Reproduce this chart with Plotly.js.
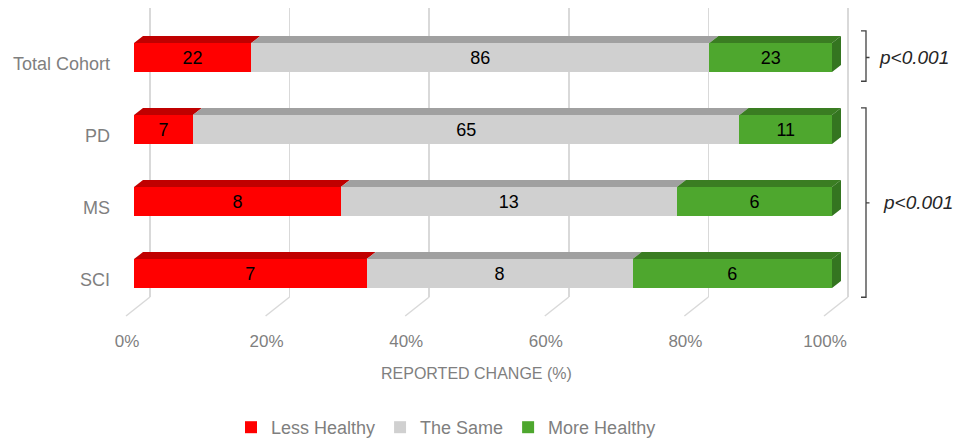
<!DOCTYPE html>
<html>
<head>
<meta charset="utf-8">
<script src="https://cdn.plot.ly/plotly-3.0.1.min.js"></script>
<style>html,body{margin:0;padding:0;background:#fff;}#chart{width:960px;height:446px;}</style>
</head>
<body>
<div id="chart"></div>
<script>
// ---- data ----
const categories = ['Total Cohort', 'PD', 'MS', 'SCI'];
const seriesNames = ['Less Healthy', 'The Same', 'More Healthy'];
const lessHealthy = [22, 7, 8, 7];
const theSame = [86, 65, 13, 8];
const moreHealthy = [23, 11, 6, 6];
const xTickVals = [0, 20, 40, 60, 80, 100];
const xTickText = ['0%', '20%', '40%', '60%', '80%', '100%'];
const pLabels = ['p<0.001', 'p<0.001'];

// ---- styling / layout constants ----
const W = 960, H = 446;
const FONT = '"Liberation Sans", Arial, sans-serif';
const GRAYTXT = '#7f7f7f';
const frontColors = ['#ff0000', '#d0d0d0', '#4ea72e'];
const topColors = ['#c00000', '#a0a0a0', '#3a7d22'];
const sideColor = '#347520';

const FX0 = 134;          // px of 0% on the front plane
const PXU = 6.98;         // px per percent
const XMAX = 103;
const GOFF = 16;          // back-wall offset (px)
const YPX0 = 57.5;        // px of first category centre
const YPXU = 72;          // px per category
const YR = [3.5, -0.6];
const BARW = 0.40;
const DX = 9 / PXU;       // depth offset in x units
const DY = 7 / YPXU;      // depth offset in y units

const yTopPx = YPX0 + YR[1] * YPXU, yBotPx = YPX0 + YR[0] * YPXU;

const totals = categories.map((c, i) => lessHealthy[i] + theSame[i] + moreHealthy[i]);
const counts = [lessHealthy, theSame, moreHealthy];
const pcts = counts.map(arr => arr.map((v, i) => v / totals[i] * 100));
const yIdx = categories.map((c, i) => i);

const traces = [{
  type: 'scatter', x: [], y: [], xaxis: 'x', yaxis: 'y', showlegend: false, hoverinfo: 'skip'
}];
seriesNames.forEach((name, s) => {
  traces.push({
    type: 'bar', orientation: 'h', name: name,
    x: pcts[s], y: yIdx, xaxis: 'x2', yaxis: 'y2',
    width: BARW,
    marker: {color: frontColors[s], line: {width: 0}},
    text: counts[s].map(String),
    textposition: 'inside', insidetextanchor: 'middle', textangle: 0,
    textfont: {family: FONT, size: 18, color: '#000'},
    constraintext: 'none',
    hoverinfo: 'skip'
  });
});

const shapes = [];
// 3D top faces and side faces, derived from the bar data
categories.forEach((c, i) => {
  let a = 0;
  const yt = i - BARW / 2, yb = i + BARW / 2;
  for (let s = 0; s < 3; s++) {
    const b = a + pcts[s][i];
    shapes.push({
      type: 'path', xref: 'x2', yref: 'y2', layer: 'above',
      path: `M${a},${yt} L${b},${yt} L${b + DX},${yt - DY} L${a + DX},${yt - DY} Z`,
      fillcolor: topColors[s], line: {width: 0}
    });
    a = b;
  }
  shapes.push({
    type: 'path', xref: 'x2', yref: 'y2', layer: 'above',
    path: `M${a},${yt} L${a + DX},${yt - DY} L${a + DX},${yb - DY} L${a},${yb} Z`,
    fillcolor: sideColor, line: {width: 0}
  });
});
// floor diagonals of the 3D grid
xTickVals.forEach(t => {
  shapes.push({
    type: 'line', xref: 'x', yref: 'paper',
    x0: t, x1: t - 24 / PXU, y0: 1 - 297 / H, y1: 1 - 316 / H,
    line: {color: '#d9d9d9', width: 1.5}
  });
});
// significance brackets
const bx = 866 / W, bxl = 861 / W, bxr = 869.5 / W;
const brackets = [[-0.37, 0.33, 0.0], [0.70, 3.33, 2.02]];
brackets.forEach(([t, b, m]) => {
  shapes.push({
    type: 'path', xref: 'paper', yref: 'y2',
    path: `M${bxl},${t} L${bx},${t} L${bx},${b} L${bxl},${b} M${bx},${m} L${bxr},${m}`,
    line: {color: '#404040', width: 1.3}
  });
});

const annotations = [
  {xref: 'x2', yref: 'paper', x: 50, xshift: -7, y: 1 - 373 / H, yanchor: 'middle', xanchor: 'center',
   text: 'REPORTED CHANGE (%)', showarrow: false, font: {family: FONT, size: 16, color: GRAYTXT}},
  {xref: 'paper', yref: 'y2', x: 877 / W, y: brackets[0][2], xanchor: 'left', yanchor: 'middle',
   text: '<i>' + pLabels[0].replace('<', '&lt;') + '</i>', showarrow: false, font: {family: FONT, size: 19, color: '#262626'}},
  {xref: 'paper', yref: 'y2', x: 881 / W, y: brackets[1][2], xanchor: 'left', yanchor: 'middle',
   text: '<i>' + pLabels[1].replace('<', '&lt;') + '</i>', showarrow: false, font: {family: FONT, size: 19, color: '#262626'}}
];

const layout = {
  width: W, height: H,
  margin: {l: 0, r: 0, t: 0, b: 0, pad: 0},
  paper_bgcolor: '#fff', plot_bgcolor: 'rgba(0,0,0,0)',
  barmode: 'stack',
  showlegend: true,
  legend: {orientation: 'h', x: 446 / W, xanchor: 'center', y: 0, yanchor: 'bottom',
           font: {family: FONT, size: 18, color: GRAYTXT}, bgcolor: 'rgba(0,0,0,0)', traceorder: 'normal'},
  // back grid subplot
  xaxis: {domain: [(FX0 + GOFF - 5 * PXU) / W, (FX0 + GOFF + XMAX * PXU) / W], range: [-5, XMAX],
          anchor: 'y', tickvals: xTickVals, showgrid: true, gridcolor: '#d9d9d9', gridwidth: 1.5,
          showticklabels: false, zeroline: false, showline: false, ticks: '', automargin: false, fixedrange: true},
  yaxis: {domain: [1 - 297 / H, 1 - 8 / H], range: [0, 1], anchor: 'x', showgrid: false, showticklabels: false,
          zeroline: false, showline: false, ticks: '', automargin: false, fixedrange: true},
  // front bars subplot
  xaxis2: {domain: [FX0 / W, (FX0 + XMAX * PXU) / W], range: [0, XMAX], anchor: 'y2',
           tickvals: xTickVals, ticktext: xTickText, showgrid: false, zeroline: false, showline: false, ticks: '',
           ticklabelshift: -7, ticklabelstandoff: 19,
           tickfont: {family: FONT, size: 17, color: GRAYTXT}, automargin: false, fixedrange: true},
  yaxis2: {domain: [1 - yBotPx / H, 1 - yTopPx / H], range: YR, anchor: 'x2',
           tickvals: yIdx, ticktext: categories, showgrid: false, zeroline: false, showline: false, ticks: '',
           ticklabelshift: -6, ticklabelstandoff: 23,
           tickfont: {family: FONT, size: 18, color: GRAYTXT}, automargin: false, fixedrange: true},
  shapes: shapes,
  annotations: annotations
};

Plotly.newPlot('chart', traces, layout, {displayModeBar: false, staticPlot: true});
</script>
</body>
</html>
